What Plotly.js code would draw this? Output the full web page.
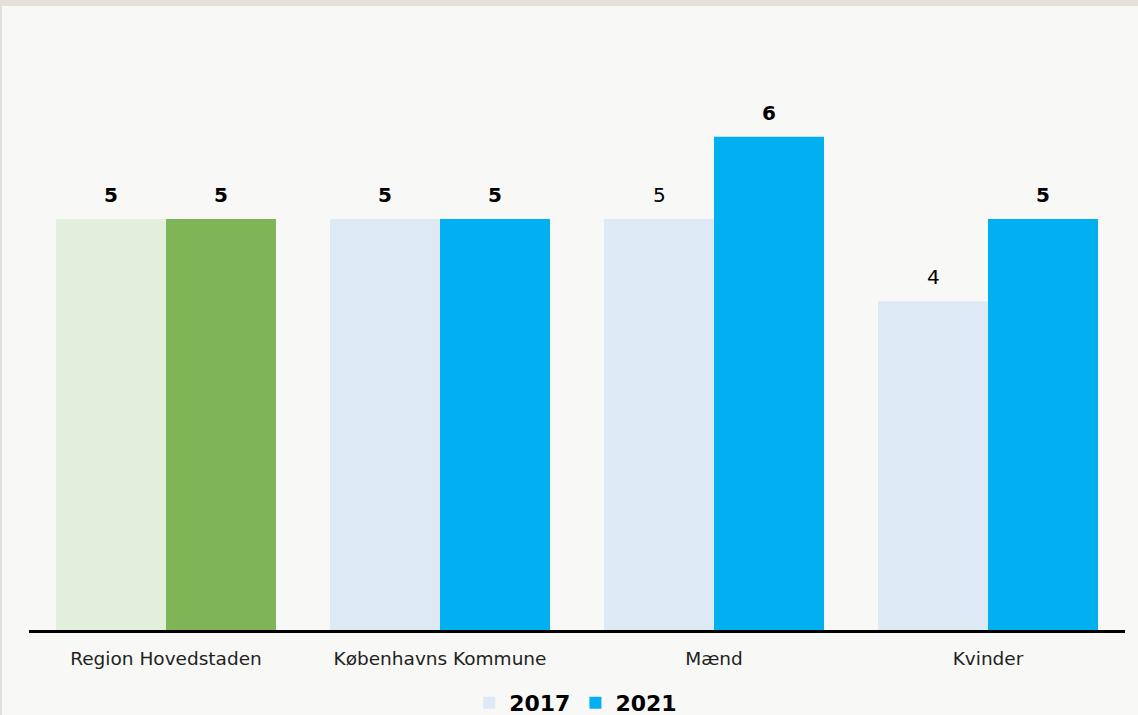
<!DOCTYPE html>
<html>
<head>
<meta charset="utf-8">
<script src="https://cdn.plot.ly/plotly-3.0.1.min.js"></script>
<style>
  body { margin: 0; background: #e4e0d9; }
  #chart { position: absolute; left: 2px; top: 6px; width: 1136px; height: 709px; }
</style>
</head>
<body>
<div id="chart"></div>
<script>
var categories = ['Region Hovedstaden', 'Københavns Kommune', 'Mænd', 'Kvinder'];
var values2017 = [5, 5, 5, 4];
var values2021 = [5, 5, 6, 5];
// which value labels are bold
var bold2017 = [true, true, false, false];
var bold2021 = [true, true, true, true];

var colors2017 = ['#e2efda', '#ddeaf6', '#ddeaf6', '#ddeaf6'];
var colors2021 = ['#7fb457', '#00b0f0', '#00b0f0', '#00b0f0'];

var fontFam = 'DejaVu Sans, Verdana, sans-serif';

// value labels above the bars
var anot = [];
function addLabels(vals, bold, shift) {
    for (var i = 0; i < vals.length; i++) {
        anot.push({
            x: categories[i],
            y: vals[i],
            xref: 'x',
            yref: 'y',
            xshift: shift,
            yshift: 10,
            yanchor: 'bottom',
            showarrow: false,
            text: bold[i] ? '<b>' + vals[i] + '</b>' : String(vals[i]),
            font: {family: fontFam, size: 20, color: '#000'}
        });
    }
}
addLabels(values2017, bold2017, -55);
addLabels(values2021, bold2021, 55);

var data = [{
    x: categories,
    y: values2017,
    type: 'bar',
    name: '2017',
    showlegend: false,
    marker: {color: colors2017},
    hoverinfo: 'none'
}, {
    x: categories,
    y: values2021,
    type: 'bar',
    name: '2021',
    showlegend: false,
    marker: {color: colors2021},
    hoverinfo: 'none'
}, {
    // legend entries only
    x: [null], y: [null], type: 'scatter', mode: 'markers', name: '2017',
    marker: {symbol: 'square', size: 12, color: '#ddeaf6'}
}, {
    x: [null], y: [null], type: 'scatter', mode: 'markers', name: '2021',
    marker: {symbol: 'square', size: 12, color: '#00b0f0'}
}];

var layout = {
    barmode: 'group',
    bargap: 0.197,
    bargroupgap: 0,
    paper_bgcolor: '#f8f8f6',
    plot_bgcolor: '#f8f8f6',
    margin: {l: 27, r: 13, t: 24, b: 85},
    font: {family: fontFam, color: '#222'},
    annotations: anot,
    xaxis: {
        showline: true,
        linecolor: '#000',
        linewidth: 3,
        ticks: '',
        ticklabelstandoff: 10,
        tickfont: {size: 18.5, color: '#222'},
        showgrid: false,
        automargin: false,
        fixedrange: true
    },
    yaxis: {
        range: [0, 7.3],
        visible: false,
        showgrid: false,
        zeroline: false,
        fixedrange: true
    },
    showlegend: true,
    legend: {
        orientation: 'h',
        x: 0.505,
        xanchor: 'center',
        xref: 'container',
        yref: 'container',
        y: 0.017,
        yanchor: 'middle',
        font: {size: 22, weight: 'bold', color: '#000'},
        itemwidth: 30,
        tracegroupgap: 0
    }
};

Plotly.newPlot('chart', data, layout, {displayModeBar: false, staticPlot: true});
</script>
</body>
</html>
